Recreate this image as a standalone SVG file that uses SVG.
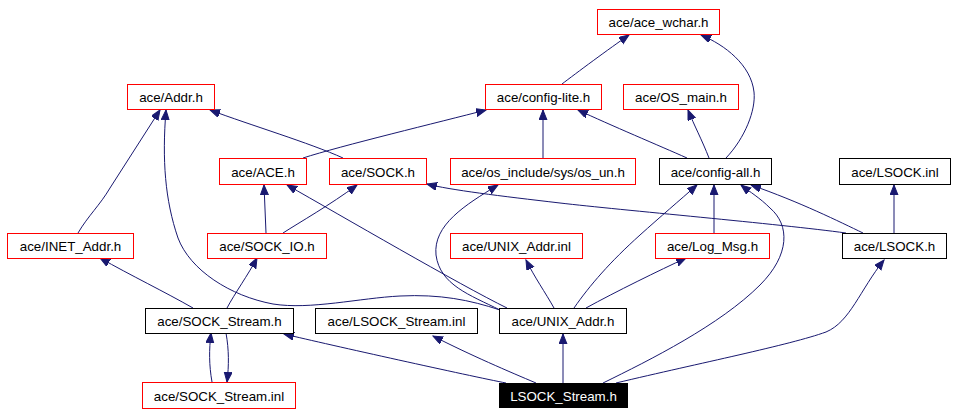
<svg xmlns="http://www.w3.org/2000/svg" width="956" height="415" viewBox="0 0 956 415">
<style>
.n rect{fill:#fff;stroke-width:1}
.r rect{stroke:#ff0000}
.b rect{stroke:#000}
.n text{font-family:"Liberation Sans",Arial,sans-serif;font-size:13.33px;text-anchor:middle;fill:#000}
.k rect{fill:#000;stroke:#000}
.k text{fill:#fff}
#edges path{fill:none;stroke:#191970;stroke-width:1;marker-end:url(#a)}
</style>
<defs>
<marker id="a" markerWidth="11" markerHeight="9" refX="10" refY="4" orient="auto" markerUnits="userSpaceOnUse">
<path d="M0,0 L10,4 L0,8 z" fill="#191970" stroke="#191970" stroke-width="1"/>
</marker>
</defs>
<rect width="956" height="415" fill="#fff"/>
<g id="edges">
<path d="M562,84 C575,74 610,48 629,35"/>
<path d="M726,158 C745,138 756,110 754,92 C751,65 725,45 701,35"/>
<path d="M303,158 C340,146 440,122 486,110"/>
<path d="M343,158 C310,143 250,125 210,110"/>
<path d="M687,158 C660,146 610,125 578,110"/>
<path d="M543,158 L543,110"/>
<path d="M709,158 C702,140 694,125 688,110"/>
<path d="M78,233 C88,216 100,205 110,188 L160,110"/>
<path d="M500,310 C470,300 440,294 400,296 C360,298 310,310 273,304 C230,296 190,270 178,238 C165,200 162,160 166,110"/>
<path d="M266,233 L264,185"/>
<path d="M283,233 C300,222 330,205 357,185"/>
<path d="M507,308 C460,285 340,215 287,185"/>
<path d="M846,233 C780,224 620,210 560,203 C500,196 450,190 427,184"/>
<path d="M500,310 C470,295 440,285 436,255 C433,225 465,205 498,185"/>
<path d="M554,308 C545,292 535,278 526,260"/>
<path d="M574,308 C590,285 610,262 640,235 C660,217 680,200 697,185"/>
<path d="M586,308 C615,292 660,270 686,258"/>
<path d="M714,233 L714,185"/>
<path d="M603,383 C650,360 720,325 760,285 C790,255 790,225 770,208 C760,198 750,192 741,185"/>
<path d="M863,233 C840,222 800,202 751,185"/>
<path d="M894,233 L894,185"/>
<path d="M616,383 C700,363 790,345 826,332 C850,322 860,290 884,260"/>
<path d="M193,308 C165,292 130,275 100,258"/>
<path d="M227,308 C235,293 248,275 257,258"/>
<path d="M212,382 C209,365 209,350 211,333"/>
<path d="M226,333 C229,350 229,365 227,382"/>
<path d="M506,383 C470,376 330,345 284,334"/>
<path d="M536,383 C510,372 470,355 433,336"/>
<path d="M563,383 L563,334"/>
</g>
<g id="n_ace_wchar" class="n r"><rect x="597.5" y="9.5" width="122" height="25"/><text x="658.5" y="27">ace/ace_wchar.h</text></g>
<g id="n_addr" class="n r"><rect x="127.5" y="84.5" width="87" height="25"/><text x="171" y="102">ace/Addr.h</text></g>
<g id="n_config_lite" class="n r"><rect x="485.5" y="84.5" width="116" height="25"/><text x="543.5" y="102">ace/config-lite.h</text></g>
<g id="n_os_main" class="n r"><rect x="623.5" y="84.5" width="115" height="25"/><text x="681" y="102">ace/OS_main.h</text></g>
<g id="n_ace" class="n r"><rect x="219.5" y="158.5" width="87" height="26"/><text x="263" y="176.5">ace/ACE.h</text></g>
<g id="n_sock" class="n r"><rect x="329.5" y="158.5" width="97" height="26"/><text x="378" y="176.5">ace/SOCK.h</text></g>
<g id="n_os_un" class="n r"><rect x="450.5" y="158.5" width="185" height="26"/><text x="543" y="176.5">ace/os_include/sys/os_un.h</text></g>
<g id="n_config_all" class="n b"><rect x="659.5" y="158.5" width="112" height="26"/><text x="715.5" y="176.5">ace/config-all.h</text></g>
<g id="n_lsock_inl" class="n b"><rect x="839.5" y="158.5" width="111" height="26"/><text x="895" y="176.5">ace/LSOCK.inl</text></g>
<g id="n_inet_addr" class="n r"><rect x="7.5" y="233.5" width="126" height="25"/><text x="70.5" y="251">ace/INET_Addr.h</text></g>
<g id="n_sock_io" class="n r"><rect x="207.5" y="233.5" width="119" height="25"/><text x="267" y="251">ace/SOCK_IO.h</text></g>
<g id="n_unix_addr_inl" class="n r"><rect x="450.5" y="233.5" width="132" height="25"/><text x="516.5" y="251">ace/UNIX_Addr.inl</text></g>
<g id="n_log_msg" class="n r"><rect x="655.5" y="233.5" width="114" height="25"/><text x="712.5" y="251">ace/Log_Msg.h</text></g>
<g id="n_lsock_h" class="n b"><rect x="842.5" y="233.5" width="104" height="25"/><text x="894.5" y="251">ace/LSOCK.h</text></g>
<g id="n_sock_stream_h" class="n b"><rect x="145.5" y="308.5" width="148" height="25"/><text x="219.5" y="326">ace/SOCK_Stream.h</text></g>
<g id="n_lsock_stream_inl" class="n b"><rect x="315.5" y="308.5" width="162" height="25"/><text x="396.5" y="326">ace/LSOCK_Stream.inl</text></g>
<g id="n_unix_addr_h" class="n b"><rect x="499.5" y="308.5" width="127" height="25"/><text x="563" y="326">ace/UNIX_Addr.h</text></g>
<g id="n_sock_stream_inl" class="n r"><rect x="142.5" y="382.5" width="153" height="26"/><text x="219" y="400.5">ace/SOCK_Stream.inl</text></g>
<g id="n_lsock_stream_h" class="n k"><rect x="499.5" y="383.5" width="128" height="24"/><text x="563.5" y="400.5">LSOCK_Stream.h</text></g>
</svg>
